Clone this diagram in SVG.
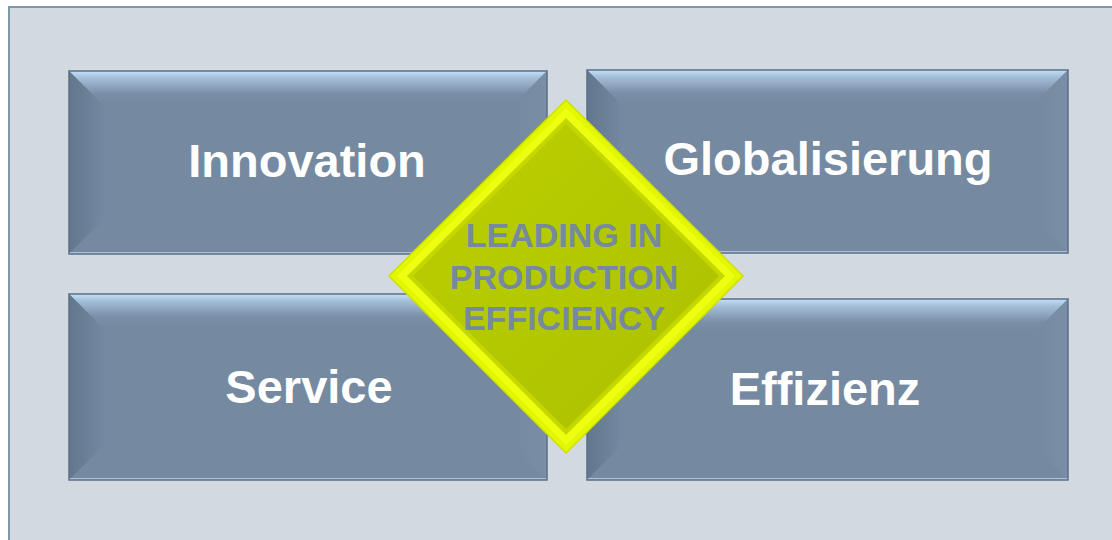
<svg xmlns="http://www.w3.org/2000/svg" width="1112" height="540" viewBox="0 0 1112 540">
<defs>
<linearGradient id="topBev" x1="0" y1="0" x2="0" y2="1">
<stop offset="0" stop-color="#c4e0fa"/>
<stop offset="0.2" stop-color="#a6c0da"/>
<stop offset="0.7" stop-color="#7a8ea5"/>
<stop offset="1" stop-color="#7589a0"/>
</linearGradient>
<linearGradient id="leftBev" x1="0" y1="0" x2="1" y2="0">
<stop offset="0" stop-color="#62778d"/>
<stop offset="1" stop-color="#7388a0"/>
</linearGradient>
<linearGradient id="rightBev" x1="0" y1="0" x2="1" y2="0">
<stop offset="0" stop-color="#7589a0"/>
<stop offset="1" stop-color="#7a8ea5"/>
</linearGradient>
<linearGradient id="dia" x1="0" y1="0" x2="1" y2="1">
<stop offset="0" stop-color="#bcd000"/>
<stop offset="0.5" stop-color="#b3c800"/>
<stop offset="1" stop-color="#adc100"/>
</linearGradient>
<style>
.body{fill:#7589a0}
.lbl{font-family:"Liberation Sans",Arial,sans-serif;font-weight:bold;fill:#ffffff;text-anchor:middle;font-size:47px}
.dlbl{font-family:"Liberation Sans",Arial,sans-serif;font-weight:bold;fill:#7589a0;text-anchor:middle;font-size:34px}
.edge{fill:none;stroke:#5b6f84;stroke-width:1.5}
.bot{stroke:#a9c2da;stroke-width:2}
</style>
</defs>
<rect x="9" y="7" width="1115" height="545" fill="#d3d9e0" stroke="#7f98a8" stroke-width="2"/>

<g id="innovation">
<rect class="body" x="69" y="71" width="478" height="183"/>
<polygon points="69,71 547,71 514,104 102,104" fill="url(#topBev)"/>
<polygon points="69,71 102,104 102,221 69,254" fill="url(#leftBev)"/>
<polygon points="547,71 547,254 514,221 514,104" fill="url(#rightBev)"/>
<line class="bot" x1="69" y1="253" x2="547" y2="253"/>
<rect class="edge" x="69" y="71" width="478" height="183"/>
<text class="lbl" x="307" y="177">Innovation</text>
</g>

<g id="globalisierung">
<rect class="body" x="587" y="70" width="481" height="183"/>
<polygon points="587,70 1068,70 1035,103 620,103" fill="url(#topBev)"/>
<polygon points="587,70 620,103 620,220 587,253" fill="url(#leftBev)"/>
<polygon points="1068,70 1068,253 1035,220 1035,103" fill="url(#rightBev)"/>
<line class="bot" x1="587" y1="252" x2="1068" y2="252"/>
<rect class="edge" x="587" y="70" width="481" height="183"/>
<text class="lbl" x="828" y="175">Globalisierung</text>
</g>

<g id="service">
<rect class="body" x="69" y="294" width="478" height="186"/>
<polygon points="69,294 547,294 514,327 102,327" fill="url(#topBev)"/>
<polygon points="69,294 102,327 102,447 69,480" fill="url(#leftBev)"/>
<polygon points="547,294 547,480 514,447 514,327" fill="url(#rightBev)"/>
<line class="bot" x1="69" y1="479" x2="547" y2="479"/>
<rect class="edge" x="69" y="294" width="478" height="186"/>
<text class="lbl" x="309" y="403">Service</text>
</g>

<g id="effizienz">
<rect class="body" x="587" y="299" width="481" height="181"/>
<polygon points="587,299 1068,299 1035,332 620,332" fill="url(#topBev)"/>
<polygon points="587,299 620,332 620,447 587,480" fill="url(#leftBev)"/>
<polygon points="1068,299 1068,480 1035,447 1035,332" fill="url(#rightBev)"/>
<line class="bot" x1="587" y1="479" x2="1068" y2="479"/>
<rect class="edge" x="587" y="299" width="481" height="181"/>
<text class="lbl" x="825" y="405">Effizienz</text>
</g>

<g id="center">
<polygon points="566,100 743,276 566,453 389,276" fill="#e2f700" stroke="#cde000" stroke-width="1.5"/>
<polygon points="566,108 735,276 566,445 397,276" fill="#eeff10"/>
<polygon points="566,118 725,276 566,435 407,276" fill="#c4d800"/>
<polygon points="566,124 719,276 566,429 413,276" fill="url(#dia)"/>
<text class="dlbl" x="564" y="247">LEADING IN</text>
<text class="dlbl" x="564" y="289">PRODUCTION</text>
<text class="dlbl" x="564" y="330">EFFICIENCY</text>
</g>
<g id="connectors"/>
</svg>
